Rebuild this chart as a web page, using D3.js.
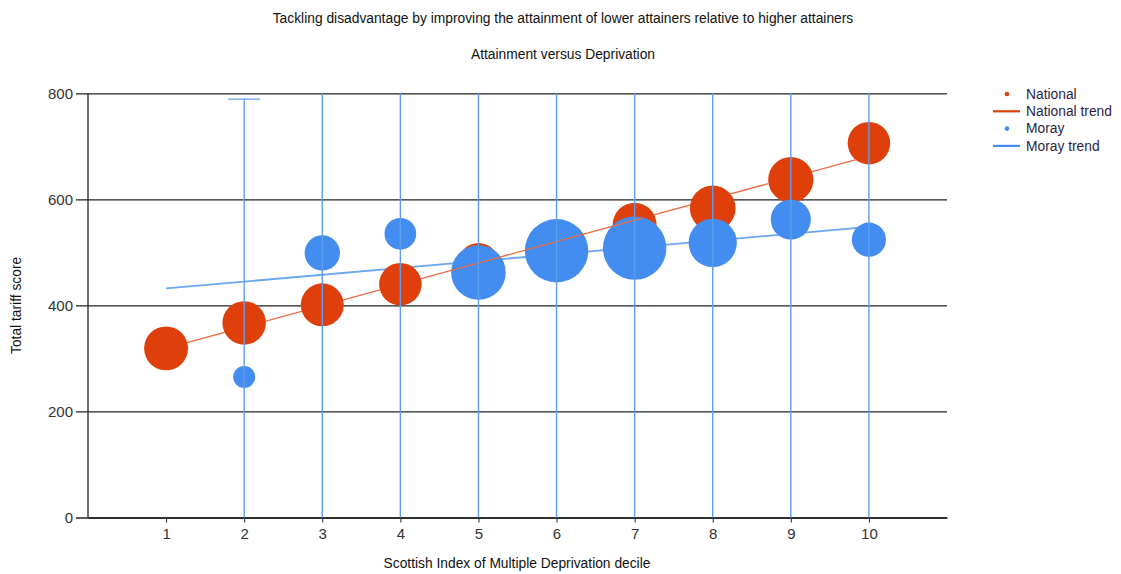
<!DOCTYPE html>
<html>
<head>
<meta charset="utf-8">
<script src="https://cdn.jsdelivr.net/npm/d3@7"></script>
<style>
  html, body { margin: 0; padding: 0; background: #fff; }
  svg { display: block; font-family: "Liberation Sans", Arial, sans-serif; }
</style>
</head>
<body>
<svg id="chart" width="1121" height="574"></svg>
<script>
// ---- Data ----
const deciles = [1, 2, 3, 4, 5, 6, 7, 8, 9, 10];
const nationalScore = [319, 367, 401, 440, 480, 521, 552, 583, 637, 706];
const nationalSize  = [48, 47, 46, 45, 40, 44, 48, 52, 51, 45];
const morayDeciles = [2, 3, 4, 5, 6, 7, 8, 9, 10];
const morayScore   = [265, 499, 535, 462, 503, 508, 518, 562, 524];
const moraySize    = [12, 31, 25, 74, 100, 100, 58, 40, 29];
const morayUpper   = [789, 1000, 1000, 1000, 1000, 1000, 1000, 1000, 1000];
const morayLower   = [-100, -100, -100, -100, -100, -100, -100, -100, -100];
const nationalTrendX = [1, 10];
const nationalTrendY = [318.9, 681.5];
const morayTrendX = [1, 10];
const morayTrendY = [432, 548];
const yTicks = [0, 200, 400, 600, 800];
const xTicks = deciles;
const titleText = "Tackling disadvantage by improving the attainment of lower attainers relative to higher attainers";
const subtitleText = "Attainment versus Deprivation";
const xTitle = "Scottish Index of Multiple Deprivation decile";
const yTitle = "Total tariff score";
const legendItems = [
  { label: "National", type: "dot", color: "#DF400B" },
  { label: "National trend", type: "line", color: "#DF400B" },
  { label: "Moray", type: "dot", color: "#428DEF" },
  { label: "Moray trend", type: "line", color: "#428DEF" }
];

(function () {
// ---- Layout ----
const svg = d3.select("#chart");
const pL = 88, pR = 947, pT = 93.3, pB = 517.5;
const x = d3.scaleLinear().domain([0, 11]).range([pL, pR]);
const y = d3.scaleLinear().domain([0, 800]).range([pB, pT]);
const r = d3.scaleSqrt().domain([0, 100]).range([0, 31.7]);
const fs = 13.8;

const natColor = "#DF400B", morColor = "#428DEF";
const natTrendColor = "#EC6A45", morTrendColor = "#6AA6F2", errColor = "#5E9EF2";

const defs = svg.append("defs");
defs.append("clipPath").attr("id", "plotClip")
  .append("rect").attr("x", pL).attr("y", pT).attr("width", pR - pL).attr("height", pB - pT);
// Mask: national trend hidden where national bubbles are visible, shown over Moray bubbles
const mask = defs.append("mask").attr("id", "natMask").attr("maskUnits", "userSpaceOnUse")
  .attr("x", 0).attr("y", 0).attr("width", 1121).attr("height", 574);
mask.append("rect").attr("x", 0).attr("y", 0).attr("width", 1121).attr("height", 574).attr("fill", "#fff");
mask.append("g").selectAll("circle").data(deciles).join("circle")
  .attr("cx", (d) => x(d)).attr("cy", (d, i) => y(nationalScore[i])).attr("r", (d, i) => r(nationalSize[i])).attr("fill", "#000");
mask.append("g").selectAll("circle").data(morayDeciles).join("circle")
  .attr("cx", (d) => x(d)).attr("cy", (d, i) => y(morayScore[i])).attr("r", (d, i) => r(moraySize[i])).attr("fill", "#fff");

// Titles
svg.append("text").attr("x", 563).attr("y", 23).attr("text-anchor", "middle")
  .attr("font-size", fs).attr("fill", "#111").text(titleText);
svg.append("text").attr("x", 563).attr("y", 59).attr("text-anchor", "middle")
  .attr("font-size", fs).attr("fill", "#111").text(subtitleText);

// Y axis with gridlines
const yAxis = d3.axisLeft(y).tickValues(yTicks).tickSize(-(pR - pL)).tickSizeOuter(0).tickPadding(15);
const yg = svg.append("g").attr("transform", `translate(${pL},0)`).call(yAxis);
yg.select(".domain").remove();
yg.selectAll(".tick line").attr("stroke", "#222").attr("stroke-width", 1.3).attr("x1", -12);
yg.selectAll(".tick text").attr("font-size", 15).attr("fill", "#333").attr("font-family", "Liberation Sans, Arial, sans-serif");
svg.append("line").attr("x1", pL).attr("x2", pL).attr("y1", pT).attr("y2", pB)
  .attr("stroke", "#222").attr("stroke-width", 1.3);

// X axis
const xAxis = d3.axisBottom(x).tickValues(xTicks).tickSize(5).tickSizeOuter(0).tickPadding(6).tickFormat(d3.format("d"));
const xg = svg.append("g").attr("transform", `translate(0,${pB})`).call(xAxis);
xg.select(".domain").attr("stroke", "#222").attr("stroke-width", 1.3);
xg.selectAll(".tick line").attr("stroke", "#222");
xg.selectAll(".tick text").attr("font-size", 15).attr("fill", "#333").attr("font-family", "Liberation Sans, Arial, sans-serif");

// Axis titles
svg.append("text").attr("x", 517).attr("y", 568).attr("text-anchor", "middle")
  .attr("font-size", fs).attr("fill", "#111").text(xTitle);
svg.append("text").attr("transform", `translate(21,${(pT + pB) / 2}) rotate(-90)`).attr("text-anchor", "middle")
  .attr("font-size", fs).attr("fill", "#111").text(yTitle);

const plot = svg.append("g").attr("clip-path", "url(#plotClip)");
const line = d3.line().x((d) => x(d[0])).y((d) => y(d[1]));

// Moray trend (under circles)
plot.append("path").datum(morayTrendX.map((d, i) => [d, morayTrendY[i]]))
  .attr("d", line).attr("fill", "none").attr("stroke", morTrendColor).attr("stroke-width", 1.8);

// National bubbles
plot.append("g").selectAll("circle").data(deciles).join("circle")
  .attr("cx", (d) => x(d)).attr("cy", (d, i) => y(nationalScore[i])).attr("r", (d, i) => r(nationalSize[i]))
  .attr("fill", natColor);

// Moray bubbles
plot.append("g").selectAll("circle").data(morayDeciles).join("circle")
  .attr("cx", (d) => x(d)).attr("cy", (d, i) => y(morayScore[i])).attr("r", (d, i) => r(moraySize[i]))
  .attr("fill", morColor);

// National trend
plot.append("path").datum(nationalTrendX.map((d, i) => [d, nationalTrendY[i]]))
  .attr("d", line).attr("fill", "none").attr("stroke", natTrendColor).attr("stroke-width", 1.4)
  .attr("mask", "url(#natMask)");

// Error bars for Moray
const eb = plot.append("g").attr("stroke", errColor).attr("stroke-width", 1.4);
morayDeciles.forEach((d, i) => {
  eb.append("line").attr("x1", x(d)).attr("x2", x(d)).attr("y1", y(morayUpper[i])).attr("y2", y(morayLower[i]));
  eb.append("line").attr("x1", x(d) - 16).attr("x2", x(d) + 16).attr("y1", y(morayUpper[i])).attr("y2", y(morayUpper[i]));
  eb.append("line").attr("x1", x(d) - 16).attr("x2", x(d) + 16).attr("y1", y(morayLower[i])).attr("y2", y(morayLower[i]));
});

// Legend
const lg = svg.append("g").attr("transform", "translate(993,94)");
legendItems.forEach((it, i) => {
  const g = lg.append("g").attr("transform", `translate(0,${i * 17.3})`);
  if (it.type === "dot") {
    g.append("circle").attr("cx", 14).attr("cy", 0).attr("r", 2.3).attr("fill", it.color);
  } else {
    g.append("line").attr("x1", 0).attr("x2", 27).attr("y1", 0).attr("y2", 0).attr("stroke", it.color).attr("stroke-width", 2.2);
  }
  g.append("text").attr("x", 33).attr("y", 0).attr("dy", "0.35em").attr("font-size", fs)
    .attr("fill", "#2a1d44").text(it.label);
});
})();
</script>
</body>
</html>
